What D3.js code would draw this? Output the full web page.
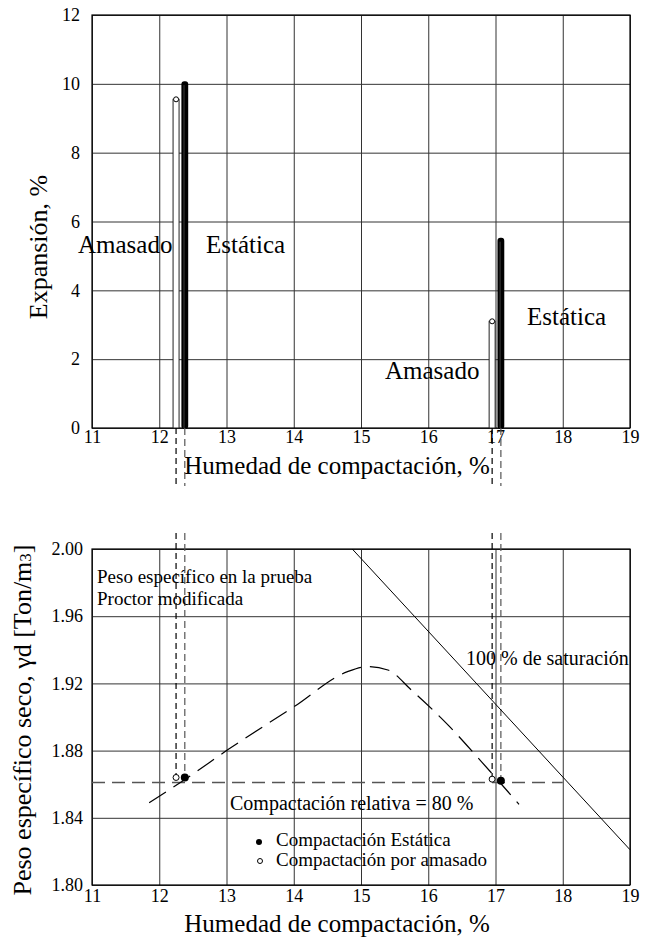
<!DOCTYPE html>
<html>
<head>
<meta charset="utf-8">
<script src="https://cdn.jsdelivr.net/npm/d3@7"></script>
<style>
  body { margin: 0; background: #fff; }
  svg text { font-family: "Liberation Serif", "Times New Roman", Times, "DejaVu Serif", serif; fill: #000; }
</style>
</head>
<body>
<div id="chart"></div>
<script>
// Data
const humedadTicks = [11, 12, 13, 14, 15, 16, 17, 18, 19];
const expansionTicks = [0, 2, 4, 6, 8, 10, 12];
const pesoTicks = [1.80, 1.84, 1.88, 1.92, 1.96, 2.00];

// expansion bars (top chart)
const amasadoHumedad = [12.25, 16.95];
const amasadoExpansion = [9.55, 3.1];
const estaticaHumedad = [12.38, 17.08];
const estaticaExpansion = [10.05, 5.5];

// dry unit weight of the samples (bottom chart)
const amasadoPeso = [1.864, 1.863];
const estaticaPeso = [1.864, 1.862];

// Proctor modificada curve
const curvaHumedad = [11.85, 12.5, 13.0, 14.0, 14.8, 15.1, 15.4, 15.75, 16.3, 16.8, 17.35];
const curvaPeso = [1.849, 1.866, 1.880, 1.906, 1.927, 1.930, 1.928, 1.916, 1.895, 1.873, 1.848];

// 100 % saturation line
const saturacionHumedad = [14.87, 19];
const saturacionPeso = [2.00, 1.821];

// relative compaction = 80 %
const relativaHumedad = [11, 18];
const relativaPeso = 1.861;

let width = 645;
let height = 937;
let left = 92, right = 630;
let serif = '"Liberation Serif", "Times New Roman", Times, "DejaVu Serif", serif';

let svg = d3.select('#chart').append('svg')
    .attr('width', width)
    .attr('height', height);

let x = d3.scaleLinear().domain([11, 19]).range([left, right]);
let yTop = d3.scaleLinear().domain([0, 12]).range([428, 15]);
let yBot = d3.scaleLinear().domain([1.80, 2.00]).range([885, 549]);

// draw grid + tick labels for one panel
function drawFrame(yScale, ticks, fmt, xPad, yPad) {
    let g = svg.append('g');
    let y0 = yScale.range()[0], y1 = yScale.range()[1];

    let xAxis = d3.axisBottom(x).tickValues(humedadTicks)
        .tickSize(-(y0 - y1)).tickPadding(xPad).tickFormat(d3.format('d'));
    let gx = g.append('g').attr('transform', `translate(0, ${y0})`).call(xAxis);

    let yAxis = d3.axisLeft(yScale).tickValues(ticks)
        .tickSize(-(right - left)).tickPadding(yPad).tickFormat(fmt);
    let gy = g.append('g').attr('transform', `translate(${left}, 0)`).call(yAxis);

    [gx, gy].forEach(a => {
        a.attr('font-family', null);
        a.select('.domain').remove();
        a.selectAll('line').attr('stroke', '#333').attr('stroke-width', 1);
        a.selectAll('text')
            .style('font-family', serif)
            .style('font-size', '18px')
            .attr('fill', '#000');
    });

    g.append('rect')
        .attr('x', left).attr('y', y1)
        .attr('width', right - left).attr('height', y0 - y1)
        .attr('fill', 'none').attr('stroke', '#000').attr('stroke-width', 1.2);
}

drawFrame(yTop, expansionTicks, d3.format('d'), 2, 12);
drawFrame(yBot, pesoTicks, d3.format('.2f'), 4, 9);

// ---- Top chart: expansion bars
let barW = 6;
amasadoHumedad.forEach((h, i) => {
    svg.append('rect')
        .attr('x', x(h) - barW / 2).attr('y', yTop(amasadoExpansion[i]))
        .attr('width', barW).attr('height', yTop(0) - yTop(amasadoExpansion[i]))
        .attr('fill', '#fff').attr('stroke', '#222').attr('stroke-width', 1);
    svg.append('circle')
        .attr('cx', x(h)).attr('cy', yTop(amasadoExpansion[i]))
        .attr('r', 2.5)
        .attr('fill', '#fff').attr('stroke', '#000').attr('stroke-width', 1);
});

estaticaHumedad.forEach((h, i) => {
    svg.append('rect')
        .attr('x', x(h) - 2.5).attr('y', yTop(estaticaExpansion[i]))
        .attr('width', 5).attr('height', yTop(0) - yTop(estaticaExpansion[i]))
        .attr('rx', 2)
        .attr('fill', '#000').attr('stroke', '#000').attr('stroke-width', 1.8);
    svg.append('line')
        .attr('x1', x(h) - 0.8).attr('x2', x(h) - 0.8)
        .attr('y1', yTop(estaticaExpansion[i]) + 3).attr('y2', yTop(0))
        .attr('stroke', '#666').attr('stroke-width', 0.6);
});

// dashed connectors between the two charts
function connectors(hs, pesos, color, dash) {
    hs.forEach((h, i) => {
        svg.append('line')
            .attr('x1', x(h)).attr('x2', x(h))
            .attr('y1', yTop(0)).attr('y2', 486)
            .attr('stroke', color).attr('stroke-width', 1.2)
            .attr('stroke-dasharray', dash);
        svg.append('line')
            .attr('x1', x(h)).attr('x2', x(h))
            .attr('y1', 533).attr('y2', yBot(pesos[i]))
            .attr('stroke', color).attr('stroke-width', 1.2)
            .attr('stroke-dasharray', dash);
    });
}
connectors(amasadoHumedad, amasadoPeso, '#000', '6,4');
connectors(estaticaHumedad, estaticaPeso, '#555', '7,4');

// text helper
function label(txt, px, py, size, anchor) {
    return svg.append('text')
        .attr('x', px).attr('y', py)
        .attr('text-anchor', anchor || 'start')
        .style('font-family', serif)
        .style('font-size', size + 'px')
        .text(txt);
}
label('Amasado', 78, 253, 25);
label('Estática', 206, 253, 25);
label('Estática', 527, 325, 25);
label('Amasado', 385, 379, 25);

label('Humedad de compactación, %', 337, 474, 25, 'middle');
svg.append('text')
    .attr('transform', 'translate(47, 247) rotate(-90)')
    .attr('text-anchor', 'middle')
    .style('font-family', serif)
    .style('font-size', '26px')
    .text('Expansión, %');

// ---- Bottom chart
let line = d3.line()
    .x(d => x(d[0]))
    .y(d => yBot(d[1]));

// relative compaction line
svg.append('path')
    .attr('d', line(relativaHumedad.map(h => [h, relativaPeso])))
    .attr('fill', 'none').attr('stroke', '#555').attr('stroke-width', 1.5)
    .attr('stroke-dasharray', '13,7');

// saturation line
svg.append('path')
    .attr('d', line(saturacionHumedad.map((h, i) => [h, saturacionPeso[i]])))
    .attr('fill', 'none').attr('stroke', '#000').attr('stroke-width', 1);

// compaction curve
svg.append('path')
    .attr('d', line.curve(d3.curveMonotoneX)(curvaHumedad.map((h, i) => [h, curvaPeso[i]])))
    .attr('fill', 'none').attr('stroke', '#000').attr('stroke-width', 1.2)
    .attr('stroke-dasharray', '20,9');

// sample points
svg.selectAll('.pt-amasado')
    .data(amasadoHumedad).enter()
    .append('circle')
    .attr('class', 'pt-amasado')
    .attr('cx', d => x(d))
    .attr('cy', (d, i) => yBot(amasadoPeso[i]))
    .attr('r', 3)
    .attr('fill', '#fff').attr('stroke', '#000').attr('stroke-width', 1);

svg.selectAll('.pt-estatica')
    .data(estaticaHumedad).enter()
    .append('circle')
    .attr('class', 'pt-estatica')
    .attr('cx', d => x(d))
    .attr('cy', (d, i) => yBot(estaticaPeso[i]))
    .attr('r', 4)
    .attr('fill', '#000');

// annotations
label('Peso específico en la prueba', 97, 583, 19);
label('Proctor modificada', 97, 605, 19);
label('100 % de saturación', 466, 665, 20);
label('Compactación relativa = 80 %', 230, 810, 20);

// legend
svg.append('circle').attr('cx', 259).attr('cy', 842).attr('r', 3).attr('fill', '#000');
label('Compactación Estática', 276, 846, 19);
svg.append('circle').attr('cx', 260).attr('cy', 861).attr('r', 2.5)
    .attr('fill', '#fff').attr('stroke', '#000').attr('stroke-width', 1);
label('Compactación por amasado', 276, 866, 19);

label('Humedad de compactación, %', 337, 932, 25, 'middle');

let yt = svg.append('text')
    .attr('transform', 'translate(31, 720) rotate(-90)')
    .attr('text-anchor', 'middle')
    .style('font-family', serif)
    .style('font-size', '26px');
yt.append('tspan').text('Peso específico seco, γd [Ton/m');
yt.append('tspan').style('font-size', '17px').text('3');
yt.append('tspan').text(']');
</script>
</body>
</html>
